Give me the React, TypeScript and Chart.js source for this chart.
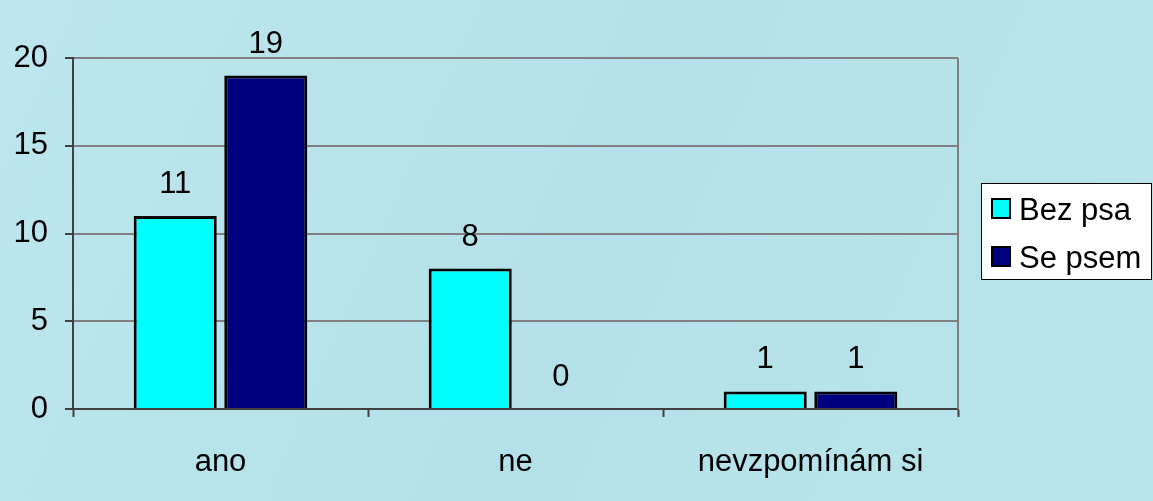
import React, { useEffect, useRef } from "react";
import { Chart, registerables } from "chart.js";

Chart.register(...registerables);

const categories = ["ano", "ne", "nevzpomínám si"];
const bezPsa = [11, 8, 1];
const sePsem = [19, 0, 1];
const seriesNames = ["Bez psa", "Se psem"];
const seriesColors = ["#00FFFF", "#000080"];
const yTicks = [0, 5, 10, 15, 20];

const FONT = "'Liberation Sans', Arial, sans-serif";
const FS = 31;

const bgPlugin = {
  id: "bgFill",
  beforeDraw(chart: any) {
    const { ctx, width, height } = chart;
    ctx.save();
    const g = ctx.createLinearGradient(0, 0, width, height);
    g.addColorStop(0, "#bde6ee");
    g.addColorStop(0.5, "#b4e1e9");
    g.addColorStop(1, "#b9e4eb");
    ctx.fillStyle = g;
    ctx.fillRect(0, 0, width, height);
    ctx.restore();
  },
  afterDatasetsDraw(chart: any) {
    const { ctx, chartArea } = chart;
    ctx.save();
    // right plot border
    ctx.strokeStyle = "#808080";
    ctx.lineWidth = 2;
    ctx.beginPath();
    ctx.moveTo(chartArea.right, chartArea.top);
    ctx.lineTo(chartArea.right, chartArea.bottom);
    ctx.stroke();
    // value labels
    ctx.fillStyle = "#000";
    ctx.font = `${FS}px ${FONT}`;
    ctx.textAlign = "center";
    ctx.textBaseline = "alphabetic";
    chart.data.datasets.forEach((ds: any, i: number) => {
      const meta = chart.getDatasetMeta(i);
      meta.data.forEach((bar: any, j: number) => {
        ctx.fillText(String(ds.data[j]), bar.x, bar.y - 23);
      });
    });
    // legend
    const lx = 981.5, ly = 183.5, lw = 170, lh = 96;
    ctx.fillStyle = "#fff";
    ctx.fillRect(lx, ly, lw, lh);
    ctx.strokeStyle = "#000";
    ctx.lineWidth = 1;
    ctx.strokeRect(lx, ly, lw, lh);
    ctx.textAlign = "left";
    ctx.textBaseline = "alphabetic";
    chart.data.datasets.forEach((ds: any, i: number) => {
      const top = 199 + i * 48;
      ctx.fillStyle = ds.backgroundColor;
      ctx.fillRect(992, top, 18, 19);
      ctx.strokeStyle = "#000";
      ctx.lineWidth = 2;
      ctx.strokeRect(992, top, 18, 19);
      ctx.fillStyle = "#000";
      ctx.fillText(ds.label, 1019, top + 21);
    });
    ctx.restore();
  },
};

export default function App() {
  const ref = useRef<HTMLCanvasElement>(null);
  useEffect(() => {
    if (!ref.current) return;
    const chart = new Chart(ref.current, {
      type: "bar",
      data: {
        labels: categories,
        datasets: [
          { label: seriesNames[0], data: bezPsa, backgroundColor: seriesColors[0] },
          { label: seriesNames[1], data: sePsem, backgroundColor: seriesColors[1] },
        ],
      },
      options: {
        animation: false,
        responsive: false,
        devicePixelRatio: 1,
        layout: { padding: { left: 0, top: 58, right: 195, bottom: 0 } },
        datasets: {
          bar: {
            categoryPercentage: 0.614,
            barPercentage: 0.917,
            borderColor: "#000",
            borderWidth: 3,
          },
        },
        plugins: { legend: { display: false }, tooltip: { enabled: false } },
        scales: {
          x: {
            afterFit(scale: any) {
              scale.height = 92;
            },
            grid: {
              offset: true,
              drawOnChartArea: false,
              drawTicks: true,
              tickLength: 8,
              tickColor: "#404040",
              tickWidth: 2,
            },
            border: { color: "#404040", width: 2 },
            ticks: { color: "#000", font: { family: FONT, size: FS }, padding: 27, maxRotation: 0 },
          },
          y: {
            min: 0,
            max: 20,
            afterFit(scale: any) {
              scale.width = 73;
            },
            afterBuildTicks(scale: any) {
              scale.ticks = yTicks.map((v) => ({ value: v }));
            },
            grid: {
              color: "#808080",
              lineWidth: 2,
              tickLength: 8,
              tickColor: "#404040",
              tickWidth: 2,
            },
            border: { color: "#404040", width: 2 },
            ticks: { color: "#000", font: { family: FONT, size: FS }, padding: 17, stepSize: 5 },
          },
        },
      },
      plugins: [bgPlugin],
    });
    return () => chart.destroy();
  }, []);
  return (
    <div style={{ position: "fixed", left: 0, top: 0, width: 1153, height: 501 }}>
      <canvas ref={ref} width={1153} height={501} style={{ display: "block" }} />
    </div>
  );
}
